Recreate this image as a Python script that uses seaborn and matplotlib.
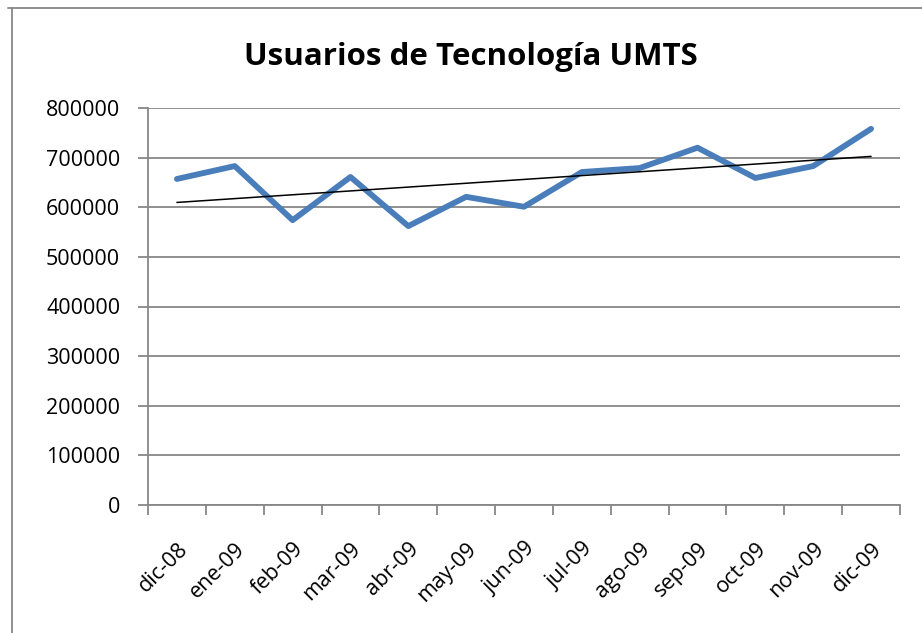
import numpy as np
import pandas as pd
import matplotlib
matplotlib.use("Agg")
import matplotlib.pyplot as plt
import seaborn as sns
from matplotlib.lines import Line2D

meses = ['dic-08', 'ene-09', 'feb-09', 'mar-09', 'abr-09', 'may-09', 'jun-09',
         'jul-09', 'ago-09', 'sep-09', 'oct-09', 'nov-09', 'dic-09']
usuarios = [657000, 683000, 574000, 661000, 562000, 621000, 601000,
            671000, 679000, 720000, 659000, 683000, 758000]
yticks = [0, 100000, 200000, 300000, 400000, 500000, 600000, 700000, 800000]

sns.set_style("white")
plt.rcParams['font.family'] = ['Open Sans', 'DejaVu Sans']
plt.rcParams['text.color'] = 'black'
plt.rcParams['xtick.labelcolor'] = 'black'
plt.rcParams['ytick.labelcolor'] = 'black'

df = pd.DataFrame({'pos': np.arange(len(meses)), 'usuarios': usuarios})
# linear trend line as in Excel
coef = np.polyfit(df.pos, df.usuarios, 1)
df['tendencia'] = np.polyval(coef, df.pos)

fig = plt.figure(figsize=(9.22, 6.33), dpi=100)
ax = fig.add_axes([148 / 922, 1 - 505 / 633, (900 - 148) / 922, (505 - 108) / 633])

sns.lineplot(data=df, x='pos', y='usuarios', color='#4A7EBB', linewidth=4.2,
             solid_capstyle='round', ax=ax)
sns.lineplot(data=df, x='pos', y='tendencia', color='black', linewidth=1.1, ax=ax)

gris = '#878787'
ax.set_ylim(0, 800000)
ax.set_xlim(-0.5, len(meses) - 0.5)
ax.set_yticks(yticks)
ax.set_yticklabels([str(v) for v in yticks], fontsize=15.5)
ax.yaxis.grid(True, color=gris, linewidth=1.3)
ax.set_axisbelow(True)

ax.set_xticks(np.arange(len(meses) + 1) - 0.5)
ax.set_xticklabels([])
ax.set_xticks(np.arange(len(meses)), minor=True)
ax.set_xticklabels(meses, minor=True, rotation=45, ha='right', va='top',
                   rotation_mode='anchor', fontsize=15.5)
ax.tick_params(axis='x', which='major', length=7, width=1.3, color=gris, direction='out', bottom=True)
ax.tick_params(axis='x', which='minor', length=0, pad=24)
ax.tick_params(axis='y', length=7, width=1.3, color=gris, direction='out', left=True, pad=13)

for s in ['top', 'right']:
    ax.spines[s].set_visible(False)
for s in ['left', 'bottom']:
    ax.spines[s].set_color(gris)
    ax.spines[s].set_linewidth(1.3)

ax.set_xlabel('')
ax.set_ylabel('')

fig.text(471 / 922, 1 - 57 / 633, 'Usuarios de Tecnología UMTS', ha='center', va='center',
         fontsize=22.5, fontweight='bold')

# chart border (only top and left edges visible)
fig.add_artist(Line2D([12 / 922, 12 / 922], [0, 1 - 8 / 633], color=gris, linewidth=1.3))
fig.add_artist(Line2D([8 / 922, 1], [1 - 8 / 633, 1 - 8 / 633], color=gris, linewidth=1.3))

plt.savefig('out.png', dpi=100)
